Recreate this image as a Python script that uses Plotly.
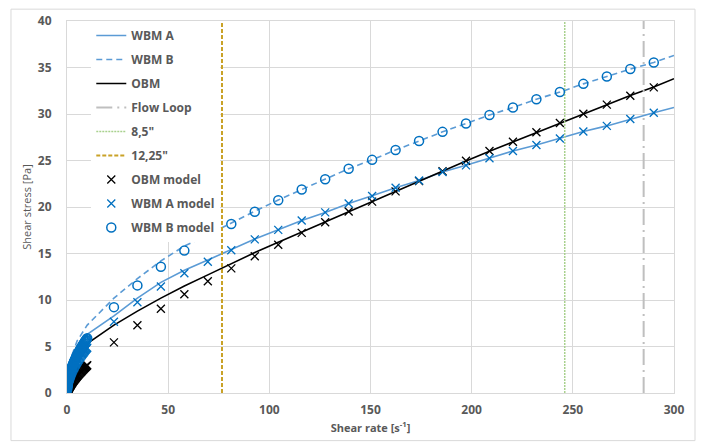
import plotly.graph_objects as go

# ---------------- data ----------------
# model points (mid/high shear rates)
model_x = [23.2, 34.8, 46.4, 58.0, 69.6, 81.2, 92.8, 104.4, 116.0, 127.6, 139.2, 150.8,
           162.4, 174.0, 185.6, 197.2, 208.8, 220.4, 232.0, 243.6, 255.2, 266.8, 278.4, 290.0]
obm_model = [5.44, 7.29, 9.05, 10.61, 12.02, 13.40, 14.71, 15.95, 17.22, 18.36, 19.52, 20.58,
             21.68, 22.78, 23.84, 24.97, 26.03, 27.02, 28.04, 29.04, 30.03, 31.01, 31.97, 32.86]
wbma_model = [7.67, 9.76, 11.46, 12.87, 14.11, 15.35, 16.52, 17.54, 18.54, 19.42, 20.37, 21.19,
              22.07, 22.85, 23.77, 24.48, 25.25, 26.03, 26.67, 27.37, 28.12, 28.72, 29.46, 30.13]
wbmb_model = [9.23, 11.57, 13.58, 15.31, 16.80, 18.18, 19.49, 20.72, 21.89, 22.99, 24.12, 25.07,
              26.13, 27.09, 28.08, 28.97, 29.89, 30.70, 31.59, 32.36, 33.24, 34.03, 34.83, 35.54]

# model points (low shear rates, dense)
low_x = [0.05, 0.1, 0.15, 0.2, 0.25, 0.3, 0.4, 0.5, 0.6, 0.7, 0.8, 0.9, 1.0, 1.1, 1.2, 1.3,
         1.4, 1.5, 1.6, 1.7, 1.8, 1.9, 2.0, 2.15, 2.3, 2.45, 2.6, 2.8, 3.0, 3.2, 3.4, 3.6, 3.8,
         4.0, 4.2, 4.4, 4.6, 4.8, 5.0, 5.25, 5.5, 5.75, 6.0, 6.25, 6.5, 6.75, 7.0, 7.25, 7.5,
         7.75, 8.0, 8.25, 8.5, 8.75, 9.0, 9.25, 9.5, 9.75, 10.0]
obm_low = [0.07, 0.11, 0.15, 0.18, 0.22, 0.25, 0.30, 0.35, 0.40, 0.45, 0.49, 0.54, 0.58, 0.62,
           0.66, 0.70, 0.74, 0.77, 0.81, 0.84, 0.88, 0.91, 0.95, 1.00, 1.05, 1.10, 1.14, 1.21,
           1.27, 1.33, 1.38, 1.44, 1.50, 1.55, 1.61, 1.66, 1.72, 1.77, 1.82, 1.89, 1.95, 2.01,
           2.07, 2.14, 2.19, 2.26, 2.32, 2.37, 2.43, 2.49, 2.54, 2.60, 2.66, 2.71, 2.77, 2.82,
           2.88, 2.93, 2.98]
wbma_low = [0.28, 0.40, 0.50, 0.59, 0.66, 0.73, 0.85, 0.96, 1.06, 1.15, 1.24, 1.32, 1.40, 1.47,
            1.55, 1.61, 1.68, 1.74, 1.81, 1.87, 1.93, 1.98, 2.04, 2.12, 2.20, 2.28, 2.35, 2.45,
            2.54, 2.63, 2.72, 2.80, 2.89, 2.97, 3.05, 3.12, 3.20, 3.28, 3.35, 3.44, 3.53, 3.61,
            3.70, 3.78, 3.86, 3.94, 4.02, 4.10, 4.17, 4.25, 4.33, 4.39, 4.47, 4.54, 4.61, 4.68,
            4.75, 4.81, 4.87]
wbmb_low = [0.35, 0.50, 0.62, 0.73, 0.82, 0.90, 1.05, 1.19, 1.31, 1.42, 1.53, 1.63, 1.72, 1.81,
            1.90, 1.98, 2.06, 2.13, 2.21, 2.28, 2.35, 2.42, 2.49, 2.59, 2.68, 2.77, 2.87, 2.98,
            3.09, 3.20, 3.31, 3.41, 3.51, 3.61, 3.70, 3.79, 3.89, 3.98, 4.06, 4.17, 4.28, 4.38,
            4.48, 4.58, 4.67, 4.77, 4.86, 4.95, 5.04, 5.14, 5.21, 5.31, 5.38, 5.48, 5.56, 5.64,
            5.71, 5.80, 5.88]

# measured curves
line_x = [0.5, 2, 5, 10, 23.2, 34.8, 46.4, 58.0, 69.6, 81.2, 92.8, 104.4, 116.0, 127.6, 139.2,
          150.8, 162.4, 174.0, 185.6, 197.2, 208.8, 220.4, 232.0, 243.6, 255.2, 266.8, 278.4,
          290.0, 300]
obm_line = [1.2, 2.6, 3.9, 5.3, 7.3, 8.8, 10.2, 11.5, 12.7, 13.9, 15.1, 16.2, 17.3, 18.4, 19.5,
            20.6, 21.7, 22.8, 23.85, 24.95, 26.0, 27.0, 28.05, 29.05, 30.05, 31.05, 32.0, 32.9, 33.8]
wbma_line = [1.5, 3.0, 4.6, 6.3, 8.3, 10.2, 11.9, 13.2, 14.3, 15.4, 16.55, 17.55, 18.55, 19.42,
             20.37, 21.2, 22.07, 22.85, 23.77, 24.48, 25.25, 26.03, 26.67, 27.37, 28.12, 28.72,
             29.46, 30.13, 30.7]
wbmb_line = [2.0, 3.8, 5.6, 7.3, 10.2, 12.3, 14.2, 15.8, 17.0, 18.3, 19.55, 20.75, 21.9, 23.0,
             24.12, 25.07, 26.13, 27.09, 28.08, 28.97, 29.89, 30.70, 31.59, 32.36, 33.24, 34.03,
             34.83, 35.54, 36.3]

# vertical reference shear rates
flow_loop_x = 285.0
d85_x = 246.0
d1225_x = 76.6
y_span = [0, 40]

x_ticks = [0, 50, 100, 150, 200, 250, 300]
y_ticks = [0, 5, 10, 15, 20, 25, 30, 35, 40]

# ---------------- figure ----------------
LIGHT_BLUE = "#5B9BD5"
DARK_BLUE = "#0070C0"
FONT = "Open Sans, Liberation Sans, sans-serif"

fig = go.Figure()

fig.add_trace(go.Scatter(x=line_x, y=wbma_line, mode="lines", name="WBM A",
                         line=dict(color=LIGHT_BLUE, width=1.6), legendgroup="1"))
fig.add_trace(go.Scatter(x=line_x, y=wbmb_line, mode="lines", name="WBM B",
                         line=dict(color=LIGHT_BLUE, width=1.6, dash="6px,4px"), legendgroup="2"))
fig.add_trace(go.Scatter(x=line_x, y=obm_line, mode="lines", name="OBM",
                         line=dict(color="black", width=1.6), legendgroup="3"))
fig.add_trace(go.Scatter(x=[flow_loop_x, flow_loop_x], y=y_span, mode="lines", name="Flow Loop",
                         line=dict(color="#BFBFBF", width=2, dash="16px,5px,2px,5px"), legendgroup="4"))
fig.add_trace(go.Scatter(x=[d85_x, d85_x], y=y_span, mode="lines", name="8,5\"",
                         line=dict(color="#A9D18E", width=1.5, dash="2px,1px"), legendgroup="5"))
fig.add_trace(go.Scatter(x=[d1225_x, d1225_x], y=y_span, mode="lines", name="12,25\"",
                         line=dict(color="#C9A227", width=2, dash="4px,2px"), legendgroup="6"))

fig.add_trace(go.Scatter(x=low_x + model_x, y=obm_low + obm_model, mode="markers", name="OBM model",
                         marker=dict(symbol="x-thin-open", size=8, color="black",
                                     line=dict(color="black", width=1.3)), legendgroup="7"))
fig.add_trace(go.Scatter(x=low_x + model_x, y=wbma_low + wbma_model, mode="markers", name="WBM A model",
                         marker=dict(symbol="x-thin-open", size=8, color=DARK_BLUE,
                                     line=dict(color=DARK_BLUE, width=1.3)), legendgroup="8"))
fig.add_trace(go.Scatter(x=low_x + model_x, y=wbmb_low + wbmb_model, mode="markers", name="WBM B model",
                         marker=dict(symbol="circle-open", size=9, color=DARK_BLUE,
                                     line=dict(color=DARK_BLUE, width=1.5)), legendgroup="9"))

fig.update_layout(
    width=701, height=446,
    margin=dict(l=67, r=27, t=16, b=53),
    paper_bgcolor="white", plot_bgcolor="white",
    font=dict(family=FONT, color="#595959"),
    showlegend=True,
    legend=dict(x=0.04, y=1.0, xanchor="left", yanchor="top",
                bgcolor="white", borderwidth=0,
                font=dict(size=12, color="#595959", family=FONT, weight="bold"),
                traceorder="grouped", tracegroupgap=5, itemwidth=30),
    xaxis=dict(range=[0, 300], tickvals=x_ticks, showgrid=True, gridcolor="#D9D9D9", gridwidth=1,
               zeroline=False, showline=True, linecolor="#D9D9D9", mirror=True, ticks="",
               ticklabelstandoff=6,
               tickfont=dict(size=12, color="#595959", weight="bold"),
               title=dict(text="Shear rate [s<sup>-1</sup>]", standoff=6,
                          font=dict(size=11, color="#595959", weight="bold"))),
    yaxis=dict(range=[0, 40], tickvals=y_ticks, showgrid=True, gridcolor="#D9D9D9", gridwidth=1,
               zeroline=False, showline=True, linecolor="#D9D9D9", mirror=True, ticks="",
               ticklabelstandoff=12,
               tickfont=dict(size=12, color="#595959", weight="bold"),
               title=dict(text="Shear stress [Pa]", standoff=4,
                          font=dict(size=11, color="#595959"))),
    shapes=[dict(type="rect", xref="paper", yref="paper", x0=-0.0923, x1=1.0346, y0=-0.128, y1=1.0318,
                 line=dict(color="#D9D9D9", width=1), fillcolor="rgba(0,0,0,0)", layer="below")],
)

fig.write_html("out.html")
